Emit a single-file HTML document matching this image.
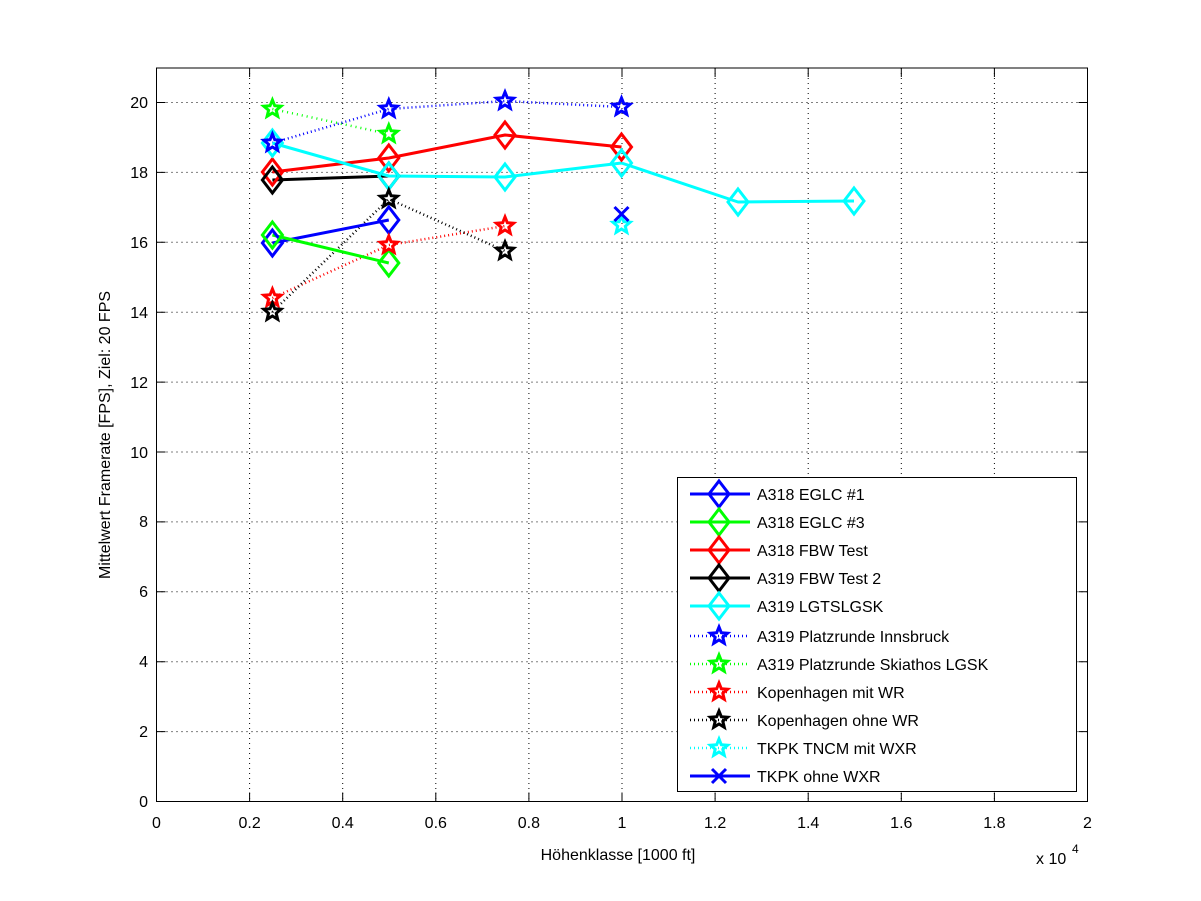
<!DOCTYPE html>
<html><head><meta charset="utf-8"><style>
html,body{margin:0;padding:0;background:#fff;}
svg{display:block;font-family:"Liberation Sans",Arial,sans-serif;}
</style></head><body>
<svg width="1201" height="901" viewBox="0 0 1201 901" xmlns="http://www.w3.org/2000/svg">
<defs>
<path id="dm" d="M0,-13 L10,0 L0,13 L-10,0 Z" fill="none" stroke-width="3"/>
<path id="st" d="M0,-9 L2.35,-3.24 L8.56,-2.78 L3.8,1.24 L5.29,7.28 L0,4 L-5.29,7.28 L-3.8,1.24 L-8.56,-2.78 L-2.35,-3.24 Z" fill="none" stroke-width="3"/>
</defs>
<rect width="1201" height="901" fill="#fff"/>
<g stroke="#000" stroke-width="1" stroke-dasharray="1,4">
<line x1="249.6" y1="68" x2="249.6" y2="801.5"/><line x1="342.7" y1="68" x2="342.7" y2="801.5"/><line x1="435.8" y1="68" x2="435.8" y2="801.5"/><line x1="528.9" y1="68" x2="528.9" y2="801.5"/><line x1="622" y1="68" x2="622" y2="801.5"/><line x1="715.1" y1="68" x2="715.1" y2="801.5"/><line x1="808.2" y1="68" x2="808.2" y2="801.5"/><line x1="901.3" y1="68" x2="901.3" y2="801.5"/><line x1="994.4" y1="68" x2="994.4" y2="801.5"/>
<line x1="156.5" y1="731.6" x2="1087.5" y2="731.6"/><line x1="156.5" y1="661.7" x2="1087.5" y2="661.7"/><line x1="156.5" y1="591.8" x2="1087.5" y2="591.8"/><line x1="156.5" y1="521.9" x2="1087.5" y2="521.9"/><line x1="156.5" y1="452" x2="1087.5" y2="452"/><line x1="156.5" y1="382.1" x2="1087.5" y2="382.1"/><line x1="156.5" y1="312.2" x2="1087.5" y2="312.2"/><line x1="156.5" y1="242.3" x2="1087.5" y2="242.3"/><line x1="156.5" y1="172.4" x2="1087.5" y2="172.4"/><line x1="156.5" y1="102.5" x2="1087.5" y2="102.5"/>
</g>
<rect x="156.5" y="68" width="931" height="733.5" fill="none" stroke="#000" stroke-width="1"/>
<g stroke="#000" stroke-width="1">
<path d="M249.6,801.5v-9M342.7,801.5v-9M435.8,801.5v-9M528.9,801.5v-9M622,801.5v-9M715.1,801.5v-9M808.2,801.5v-9M901.3,801.5v-9M994.4,801.5v-9"/>
<path d="M249.6,68v9M342.7,68v9M435.8,68v9M528.9,68v9M622,68v9M715.1,68v9M808.2,68v9M901.3,68v9M994.4,68v9"/>
<path d="M156.5,731.6h9M156.5,661.7h9M156.5,591.8h9M156.5,521.9h9M156.5,452h9M156.5,382.1h9M156.5,312.2h9M156.5,242.3h9M156.5,172.4h9M156.5,102.5h9"/>
<path d="M1087.5,731.6h-9M1087.5,661.7h-9M1087.5,591.8h-9M1087.5,521.9h-9M1087.5,452h-9M1087.5,382.1h-9M1087.5,312.2h-9M1087.5,242.3h-9M1087.5,172.4h-9M1087.5,102.5h-9"/>
</g>
<g font-size="16" fill="#000" text-anchor="middle">
<text x="156.5" y="828">0</text><text x="249.6" y="828">0.2</text><text x="342.7" y="828">0.4</text><text x="435.8" y="828">0.6</text><text x="528.9" y="828">0.8</text><text x="622" y="828">1</text><text x="715.1" y="828">1.2</text><text x="808.2" y="828">1.4</text><text x="901.3" y="828">1.6</text><text x="994.4" y="828">1.8</text><text x="1087.5" y="828">2</text>
</g>
<g font-size="16" fill="#000" text-anchor="end">
<text x="148" y="807">0</text><text x="148" y="737">2</text><text x="148" y="667">4</text><text x="148" y="597">6</text><text x="148" y="527">8</text><text x="148" y="458">10</text><text x="148" y="388">12</text><text x="148" y="318">14</text><text x="148" y="248">16</text><text x="148" y="178">18</text><text x="148" y="108">20</text>
</g>
<text x="1036" y="864" font-size="16">x 10</text><text x="1072" y="853" font-size="12">4</text>
<text x="618" y="860" font-size="16" text-anchor="middle">Höhenklasse [1000 ft]</text>
<text transform="translate(110,435) rotate(-90)" font-size="16" text-anchor="middle">Mittelwert Framerate [FPS], Ziel: 20 FPS</text>

<g fill="none" stroke-linejoin="round">
<polyline points="272.4,109 388.8,134" stroke="#0f0" stroke-width="2.5" stroke-dasharray="1,4"/>
<polyline points="272.4,143 388.8,109 505,101 621.5,107" stroke="#00f" stroke-width="2.5" stroke-dasharray="1,3"/>
<polyline points="272.4,298 388.8,245 505,226" stroke="#f00" stroke-width="2.5" stroke-dasharray="1,3"/>
<polyline points="272.4,312 388.8,199 505,251" stroke="#000" stroke-width="2.5" stroke-dasharray="1,3"/>
<polyline points="272.4,243 388.8,220" stroke="#00f" stroke-width="3"/>
<polyline points="272.4,235 388.8,263" stroke="#0f0" stroke-width="3"/>
<polyline points="272.4,172 388.8,158 505,135 621.5,147" stroke="#f00" stroke-width="3"/>
<polyline points="272.4,180 388.8,176" stroke="#000" stroke-width="3"/>
<polyline points="272.4,143 388.8,176 505,177 621.5,163 738,202 854,201" stroke="#0ff" stroke-width="3"/>
</g>
<g>
<use href="#dm" x="272.4" y="243" stroke="#00f"/><use href="#dm" x="388.8" y="220" stroke="#00f"/>
<use href="#dm" x="272.4" y="235" stroke="#0f0"/><use href="#dm" x="388.8" y="263" stroke="#0f0"/>
<use href="#dm" x="272.4" y="172" stroke="#f00"/><use href="#dm" x="388.8" y="158" stroke="#f00"/><use href="#dm" x="505" y="135" stroke="#f00"/><use href="#dm" x="621.5" y="147" stroke="#f00"/>
<use href="#dm" x="272.4" y="180" stroke="#000"/><use href="#dm" x="388.8" y="176" stroke="#000"/>
<use href="#dm" x="272.4" y="143" stroke="#0ff"/><use href="#dm" x="388.8" y="176" stroke="#0ff"/><use href="#dm" x="505" y="177" stroke="#0ff"/><use href="#dm" x="621.5" y="163" stroke="#0ff"/><use href="#dm" x="738" y="202" stroke="#0ff"/><use href="#dm" x="854" y="201" stroke="#0ff"/>
<use href="#st" x="272.4" y="143" stroke="#00f"/><use href="#st" x="388.8" y="109" stroke="#00f"/><use href="#st" x="505" y="101" stroke="#00f"/><use href="#st" x="621.5" y="107" stroke="#00f"/>
<use href="#st" x="272.4" y="109" stroke="#0f0"/><use href="#st" x="388.8" y="134" stroke="#0f0"/>
<use href="#st" x="272.4" y="298" stroke="#f00"/><use href="#st" x="388.8" y="245" stroke="#f00"/><use href="#st" x="505" y="226" stroke="#f00"/>
<use href="#st" x="272.4" y="312" stroke="#000"/><use href="#st" x="388.8" y="199" stroke="#000"/><use href="#st" x="505" y="251" stroke="#000"/>
<use href="#st" x="621.5" y="225" stroke="#0ff"/>
<path d="M614.5,207l14,14M628.5,207l-14,14" stroke="#00f" stroke-width="3"/>
</g>

<rect x="677.5" y="477.5" width="399" height="314" fill="#fff" stroke="#000" stroke-width="1"/>
<g fill="none">
<line x1="690" y1="494" x2="750" y2="494" stroke="#00f" stroke-width="3"/><use href="#dm" x="719" y="494" stroke="#00f"/>
<line x1="690" y1="522" x2="750" y2="522" stroke="#0f0" stroke-width="3"/><use href="#dm" x="719" y="522" stroke="#0f0"/>
<line x1="690" y1="550" x2="750" y2="550" stroke="#f00" stroke-width="3"/><use href="#dm" x="719" y="550" stroke="#f00"/>
<line x1="690" y1="578" x2="750" y2="578" stroke="#000" stroke-width="3"/><use href="#dm" x="719" y="578" stroke="#000"/>
<line x1="690" y1="606" x2="750" y2="606" stroke="#0ff" stroke-width="3"/><use href="#dm" x="719" y="606" stroke="#0ff"/>
<line x1="690" y1="636" x2="750" y2="636" stroke="#00f" stroke-width="2.5" stroke-dasharray="1,3"/><use href="#st" x="719" y="636" stroke="#00f"/>
<line x1="690" y1="664" x2="750" y2="664" stroke="#0f0" stroke-width="2.5" stroke-dasharray="1,3"/><use href="#st" x="719" y="664" stroke="#0f0"/>
<line x1="690" y1="692" x2="750" y2="692" stroke="#f00" stroke-width="2.5" stroke-dasharray="1,3"/><use href="#st" x="719" y="692" stroke="#f00"/>
<line x1="690" y1="720" x2="750" y2="720" stroke="#000" stroke-width="2.5" stroke-dasharray="1,3"/><use href="#st" x="719" y="720" stroke="#000"/>
<line x1="690" y1="748" x2="750" y2="748" stroke="#0ff" stroke-width="2.5" stroke-dasharray="1,3"/><use href="#st" x="719" y="748" stroke="#0ff"/>
<line x1="690" y1="776" x2="750" y2="776" stroke="#00f" stroke-width="3"/><path d="M712,769l14,14M726,769l-14,14" stroke="#00f" stroke-width="3"/>
</g>
<g font-size="16" fill="#000">
<text x="757" y="500">A318 EGLC #1</text>
<text x="757" y="528">A318 EGLC #3</text>
<text x="757" y="556">A318 FBW Test</text>
<text x="757" y="584">A319 FBW Test 2</text>
<text x="757" y="612">A319 LGTSLGSK</text>
<text x="757" y="642">A319 Platzrunde Innsbruck</text>
<text x="757" y="670">A319 Platzrunde Skiathos LGSK</text>
<text x="757" y="698">Kopenhagen mit WR</text>
<text x="757" y="726">Kopenhagen ohne WR</text>
<text x="757" y="754">TKPK TNCM mit WXR</text>
<text x="757" y="782">TKPK ohne WXR</text>
</g>
</svg>
</body></html>
